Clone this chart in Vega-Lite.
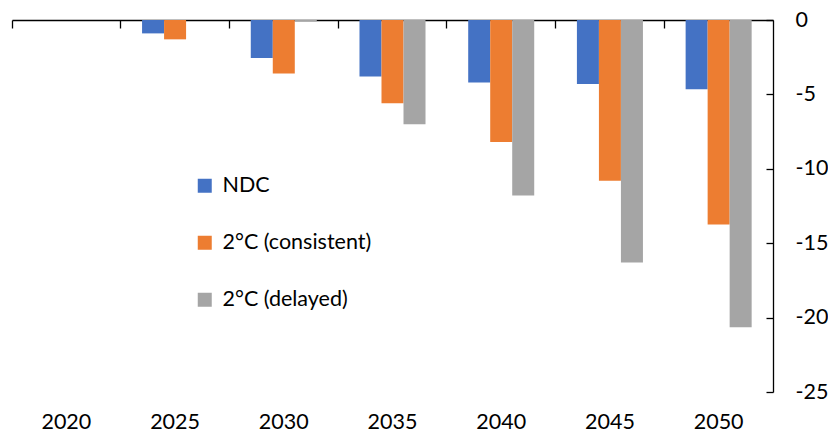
{
  "$schema": "https://vega.github.io/schema/vega-lite/v6.json",
  "width": 761,
  "height": 372,
  "autosize": {"type": "none"},
  "padding": {"left": 12, "top": 20, "right": 55, "bottom": 42},
  "config": {"view": {"stroke": null}, "font": "Lato"},
  "data": {
    "values": [
      {"year": "2020", "series": "NDC", "value": 0},
      {"year": "2020", "series": "2°C (consistent)", "value": 0},
      {"year": "2020", "series": "2°C (delayed)", "value": 0},
      {"year": "2025", "series": "NDC", "value": -0.9},
      {"year": "2025", "series": "2°C (consistent)", "value": -1.3},
      {"year": "2025", "series": "2°C (delayed)", "value": 0},
      {"year": "2030", "series": "NDC", "value": -2.55},
      {"year": "2030", "series": "2°C (consistent)", "value": -3.6},
      {"year": "2030", "series": "2°C (delayed)", "value": -0.1},
      {"year": "2035", "series": "NDC", "value": -3.8},
      {"year": "2035", "series": "2°C (consistent)", "value": -5.6},
      {"year": "2035", "series": "2°C (delayed)", "value": -7.0},
      {"year": "2040", "series": "NDC", "value": -4.2},
      {"year": "2040", "series": "2°C (consistent)", "value": -8.2},
      {"year": "2040", "series": "2°C (delayed)", "value": -11.8},
      {"year": "2045", "series": "NDC", "value": -4.3},
      {"year": "2045", "series": "2°C (consistent)", "value": -10.8},
      {"year": "2045", "series": "2°C (delayed)", "value": -16.3},
      {"year": "2050", "series": "NDC", "value": -4.65},
      {"year": "2050", "series": "2°C (consistent)", "value": -13.75},
      {"year": "2050", "series": "2°C (delayed)", "value": -20.65}
    ]
  },
  "layer": [
    {
      "mark": {"type": "bar"},
      "encoding": {
        "x": {
          "field": "year",
          "type": "ordinal",
          "scale": {"paddingInner": 0, "paddingOuter": 0},
          "axis": {
            "orient": "top",
            "labels": false,
            "title": null,
            "domainColor": "#000",
            "tickColor": "#000",
            "tickSize": -8,
            "bandPosition": 0,
            "domainWidth": 1.3,
            "tickWidth": 1.3
          }
        },
        "xOffset": {
          "field": "series",
          "type": "nominal",
          "sort": ["NDC", "2°C (consistent)", "2°C (delayed)"],
          "scale": {"paddingOuter": 0.97, "paddingInner": 0}
        },
        "y": {
          "field": "value",
          "type": "quantitative",
          "scale": {"domain": [-25, 0], "nice": false},
          "axis": {
            "orient": "right",
            "values": [0, -5, -10, -15, -20, -25],
            "title": null,
            "grid": false,
            "tickSize": -7,
            "labelPadding": 29,
            "labelFontSize": 21.5,
            "labelColor": "#000",
            "domainColor": "#000",
            "tickColor": "#000",
            "domainWidth": 1.3,
            "tickWidth": 1.3,
            "labelExpr": "toString(datum.value)"
          }
        },
        "color": {
          "field": "series",
          "type": "nominal",
          "sort": ["NDC", "2°C (consistent)", "2°C (delayed)"],
          "scale": {
            "domain": ["NDC", "2°C (consistent)", "2°C (delayed)"],
            "range": ["#4472C4", "#ED7D31", "#A5A5A5"]
          },
          "legend": {
            "orient": "none",
            "legendX": 182,
            "legendY": 155,
            "title": null,
            "symbolType": "square",
            "symbolSize": 196,
            "symbolStrokeWidth": 0,
            "labelFontSize": 21.5,
            "labelColor": "#000",
            "rowPadding": 34,
            "labelOffset": 7
          }
        }
      }
    },
    {
      "mark": {"type": "point", "opacity": 0},
      "encoding": {
        "x": {
          "field": "year",
          "type": "ordinal",
          "axis": {
            "orient": "bottom",
            "domain": false,
            "ticks": false,
            "title": null,
            "labelFontSize": 21.5,
            "labelPadding": 19,
            "labelColor": "#000",
            "labelAngle": 0
          }
        }
      }
    }
  ],
  "resolve": {"axis": {"x": "independent"}}
}
